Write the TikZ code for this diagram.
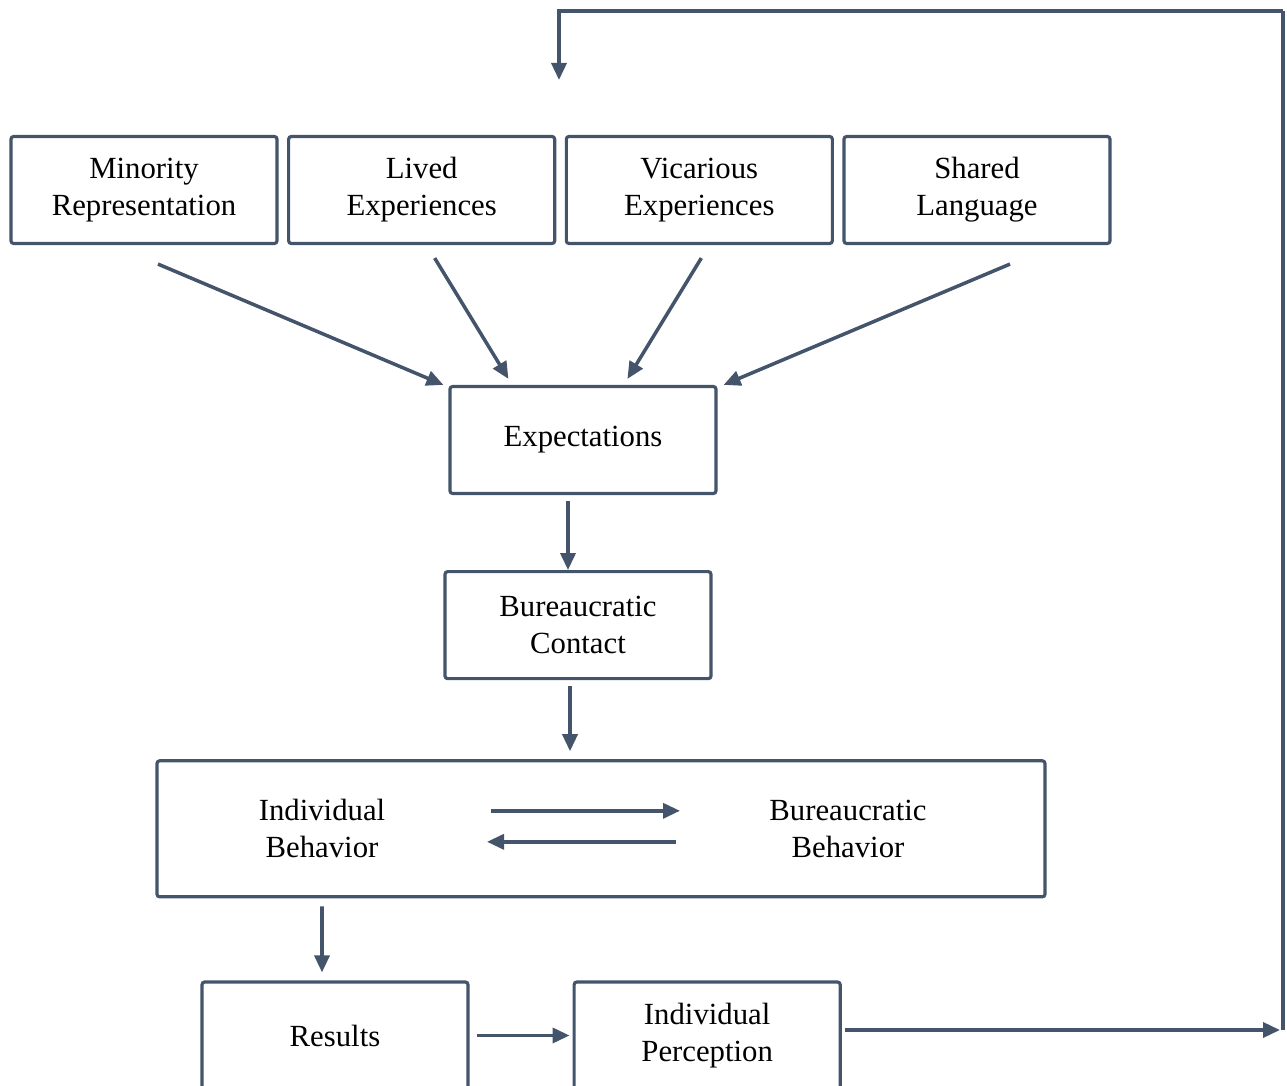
\documentclass[tikz,border=0pt]{standalone}
\usepackage{fontspec}
\setmainfont{Liberation Serif}
\usetikzlibrary{arrows.meta, positioning, calc}
\definecolor{slate}{HTML}{44546A}
\tikzset{
	concept/.style={rectangle, rounded corners=1.5pt, draw=slate,
		line width=1.8pt, minimum width=5.32cm, minimum height=2.14cm,
		align=center, font=\fontsize{17.5}{21}\selectfont},
	plaintext/.style={align=center, font=\fontsize{17.5}{21}\selectfont},
	myarrow/.style={-{Triangle[length=0.34cm,width=0.3cm]}, draw=slate,
		line width=2pt},
	feedline/.style={draw=slate, line width=2pt}
}

\begin{document}
\begin{tikzpicture}[node distance=0.17cm and 0.17cm]
	\useasboundingbox (0,0) rectangle (25.74,-21.72);

	% sources of expectations
	\node[concept] (minrep) at (2.88,-3.80) {Minority\\Representation};
	\node[concept, right=of minrep] (lived) {Lived\\Experiences};
	\node[concept, right=of lived] (vicar) {Vicarious\\Experiences};
	\node[concept, right=of vicar] (lang) {Shared\\Language};

	\node[concept] (expect) at (11.66,-8.80) {Expectations};
	\node[concept, below=1.5cm of expect, xshift=-0.1cm] (contact)
	{Bureaucratic\\Contact};
	\node[concept, below=1.58cm of contact, xshift=0.46cm,
	minimum width=17.76cm, minimum height=2.72cm] (interact) {};
	\node[plaintext] (indbeh) at ($(interact.center)+(-5.58,0)$)
	{Individual\\Behavior};
	\node[plaintext] (burbeh) at ($(interact.center)+(4.94,0)$)
	{Bureaucratic\\Behavior};

	\node[concept, below=1.64cm of interact, xshift=-5.32cm] (results) {Results};
	\node[concept, right=2.06cm of results] (indperc) {Individual\\Perception};

	% feedback loop
	\coordinate (fbright) at (25.66,-20.60);
	\coordinate (fbtop) at (25.66,-0.22);
	\coordinate (fbin) at (11.18,-1.60);

	\draw[myarrow] ($(minrep.south)+(0.28,-0.38)$) -- ($(expect.north west)+(-0.10,0)$);
	\draw[myarrow] ($(lived.south)+(0.26,-0.26)$) -- ($(expect.north west)+(1.20,0.12)$);
	\draw[myarrow] ($(vicar.south)+(0.04,-0.26)$) -- ($(expect.north west)+(3.58,0.12)$);
	\draw[myarrow] ($(lang.south)+(0.66,-0.38)$) -- ($(expect.north east)+(0.12,0)$);

	\draw[myarrow] ($(expect.south)+(-0.30,-0.12)$) -- ($(expect.south)+(-0.30,-1.50)$);
	\draw[myarrow] ($(contact.south)+(-0.16,-0.12)$) -- ($(interact.north)+(-0.62,0.16)$);
	\draw[myarrow] ($(interact.center)+(-2.20,0.36)$) -- ($(interact.center)+(1.58,0.36)$);
	\draw[myarrow] ($(interact.center)+(1.50,-0.26)$) -- ($(interact.center)+(-2.28,-0.26)$);
	\draw[myarrow] ($(interact.south)+(-5.58,-0.16)$) -- ($(results.north)+(-0.26,0.16)$);
	\draw[myarrow] ($(results.east)+(0.14,0)$) -- ($(indperc.west)+(-0.06,0)$);
	\draw[myarrow] (indperc.east |- fbright) ++(0.06,0) -- ($(fbright)+(-0.06,0)$);
	\draw[feedline] (fbright) -- (fbtop);
	\draw[myarrow] (fbtop) -| (fbin);
\end{tikzpicture}
\end{document}
